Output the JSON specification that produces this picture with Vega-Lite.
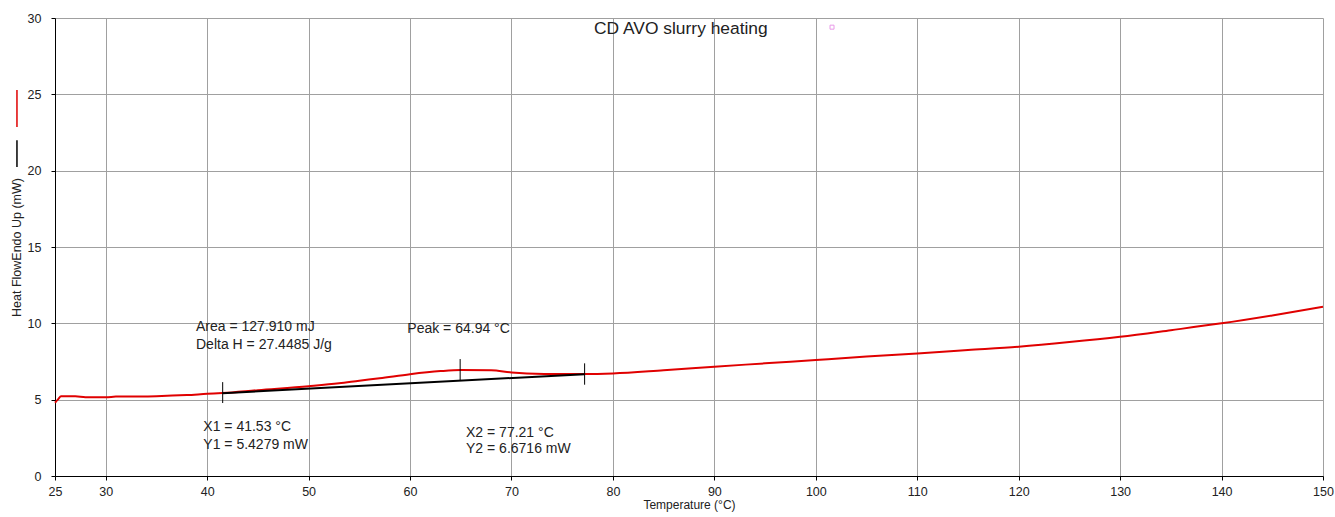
{
  "$schema": "https://vega.github.io/schema/vega-lite/v6.json",
  "width": 1268,
  "height": 458,
  "autosize": {"type": "none"},
  "padding": {"left": 55, "top": 18, "right": 12, "bottom": 41},
  "background": "white",
  "config": {
    "view": {"stroke": null},
    "font": "Liberation Sans",
    "axis": {
      "gridColor": "#a0a0a0",
      "gridWidth": 1,
      "gridOpacity": 1,
      "domainColor": "#000000",
      "domainWidth": 1,
      "tickColor": "#000000",
      "tickSize": 4,
      "labelFont": "Liberation Sans",
      "labelFontSize": 12.5,
      "labelColor": "#222222",
      "labelFlush": false,
      "titleFont": "Liberation Sans",
      "titleFontWeight": "normal",
      "titleColor": "#222222"
    }
  },
  "datasets": {
    "curve": [
      {"t": 25.0, "hf": 4.8},
      {"t": 25.3, "hf": 5.02},
      {"t": 25.6, "hf": 5.22},
      {"t": 27.0, "hf": 5.22},
      {"t": 28.0, "hf": 5.16},
      {"t": 30.0, "hf": 5.16},
      {"t": 31.0, "hf": 5.2},
      {"t": 35.0, "hf": 5.23},
      {"t": 38.0, "hf": 5.3},
      {"t": 40.0, "hf": 5.38},
      {"t": 41.5, "hf": 5.43},
      {"t": 45.0, "hf": 5.62},
      {"t": 50.0, "hf": 5.88},
      {"t": 53.0, "hf": 6.07},
      {"t": 55.0, "hf": 6.24},
      {"t": 57.0, "hf": 6.4},
      {"t": 60.0, "hf": 6.67},
      {"t": 63.0, "hf": 6.87},
      {"t": 65.0, "hf": 6.94},
      {"t": 68.0, "hf": 6.93},
      {"t": 70.0, "hf": 6.78},
      {"t": 71.5, "hf": 6.72},
      {"t": 75.0, "hf": 6.68},
      {"t": 77.2, "hf": 6.68},
      {"t": 80.0, "hf": 6.72},
      {"t": 85.0, "hf": 6.93},
      {"t": 90.0, "hf": 7.16},
      {"t": 95.0, "hf": 7.38},
      {"t": 100.0, "hf": 7.6},
      {"t": 105.0, "hf": 7.82},
      {"t": 110.0, "hf": 8.03},
      {"t": 115.0, "hf": 8.25},
      {"t": 120.0, "hf": 8.47},
      {"t": 125.0, "hf": 8.77},
      {"t": 130.0, "hf": 9.12},
      {"t": 135.0, "hf": 9.55},
      {"t": 140.0, "hf": 10.0},
      {"t": 145.0, "hf": 10.52},
      {"t": 150.0, "hf": 11.08}
    ],
    "baseline": [
      {"t": 41.53, "hf": 5.4279},
      {"t": 77.21, "hf": 6.6716}
    ],
    "ticks": [
      {"t": 41.53, "lo": 4.78, "hi": 6.15},
      {"t": 64.94, "lo": 6.24, "hi": 7.66},
      {"t": 77.21, "lo": 5.98, "hi": 7.38}
    ],
    "legendSeg": [
      {"t": 21.25, "lo": 22.86, "hi": 25.28, "c": "red"},
      {"t": 21.25, "lo": 20.24, "hi": 22.0, "c": "black"}
    ],
    "notes": [
      {"t": 38.9, "hf": 9.78, "label": "Area = 127.910 mJ"},
      {"t": 38.9, "hf": 8.58, "label": "Delta H = 27.4485 J/g"},
      {"t": 59.73, "hf": 9.63, "label": "Peak = 64.94 °C"},
      {"t": 39.62, "hf": 3.23, "label": "X1 = 41.53 °C"},
      {"t": 39.62, "hf": 2.03, "label": "Y1 = 5.4279 mW"},
      {"t": 65.52, "hf": 2.84, "label": "X2 = 77.21 °C"},
      {"t": 65.52, "hf": 1.75, "label": "Y2 = 6.6716 mW"}
    ],
    "titleRow": [
      {"t": 86.7, "hf": 29.27, "label": "CD AVO slurry heating"}
    ],
    "marker": [
      {"t": 101.6, "hf": 29.4}
    ]
  },
  "layer": [
    {
      "data": {"name": "curve"},
      "mark": {"type": "line", "color": "#e00000", "strokeWidth": 2, "interpolate": "monotone"},
      "encoding": {
        "x": {
          "field": "t", "type": "quantitative",
          "scale": {"domain": [25, 150], "nice": false, "zero": false},
          "axis": {
            "title": "Temperature (°C)",
            "titleFontSize": 12,
            "values": [25, 30, 40, 50, 60, 70, 80, 90, 100, 110, 120, 130, 140, 150],
            "labelPadding": 5,
            "titlePadding": 2
          }
        },
        "y": {
          "field": "hf", "type": "quantitative",
          "scale": {"domain": [0, 30], "nice": false, "zero": false},
          "axis": {
            "title": "Heat FlowEndo Up (mW)",
            "titleFontSize": 12.5,
            "values": [0, 5, 10, 15, 20, 25, 30],
            "labelPadding": 10,
            "titlePadding": 4
          }
        }
      }
    },
    {
      "data": {"name": "baseline"},
      "mark": {"type": "line", "color": "#000000", "strokeWidth": 2},
      "encoding": {
        "x": {"field": "t", "type": "quantitative"},
        "y": {"field": "hf", "type": "quantitative"}
      }
    },
    {
      "data": {"name": "ticks"},
      "mark": {"type": "rule", "color": "#000000", "strokeWidth": 1},
      "encoding": {
        "x": {"field": "t", "type": "quantitative"},
        "y": {"field": "lo", "type": "quantitative"},
        "y2": {"field": "hi"}
      }
    },
    {
      "data": {"name": "legendSeg"},
      "mark": {"type": "rule", "strokeWidth": 1.5, "clip": false},
      "encoding": {
        "x": {"field": "t", "type": "quantitative"},
        "y": {"field": "lo", "type": "quantitative"},
        "y2": {"field": "hi"},
        "color": {
          "field": "c", "type": "nominal",
          "scale": {"domain": ["red", "black"], "range": ["#e00000", "#000000"]},
          "legend": null
        }
      }
    },
    {
      "data": {"name": "notes"},
      "mark": {"type": "text", "align": "left", "baseline": "middle", "fontSize": 14, "font": "Liberation Sans", "color": "#222222"},
      "encoding": {
        "x": {"field": "t", "type": "quantitative"},
        "y": {"field": "hf", "type": "quantitative"},
        "text": {"field": "label"}
      }
    },
    {
      "data": {"name": "titleRow"},
      "mark": {"type": "text", "align": "center", "baseline": "middle", "fontSize": 17.4, "font": "Liberation Sans", "color": "#222222"},
      "encoding": {
        "x": {"field": "t", "type": "quantitative"},
        "y": {"field": "hf", "type": "quantitative"},
        "text": {"field": "label"}
      }
    },
    {
      "data": {"name": "marker"},
      "mark": {"type": "point", "shape": "square", "size": 16, "filled": false, "stroke": "#e070e0", "strokeWidth": 1},
      "encoding": {
        "x": {"field": "t", "type": "quantitative"},
        "y": {"field": "hf", "type": "quantitative"}
      }
    }
  ]
}
